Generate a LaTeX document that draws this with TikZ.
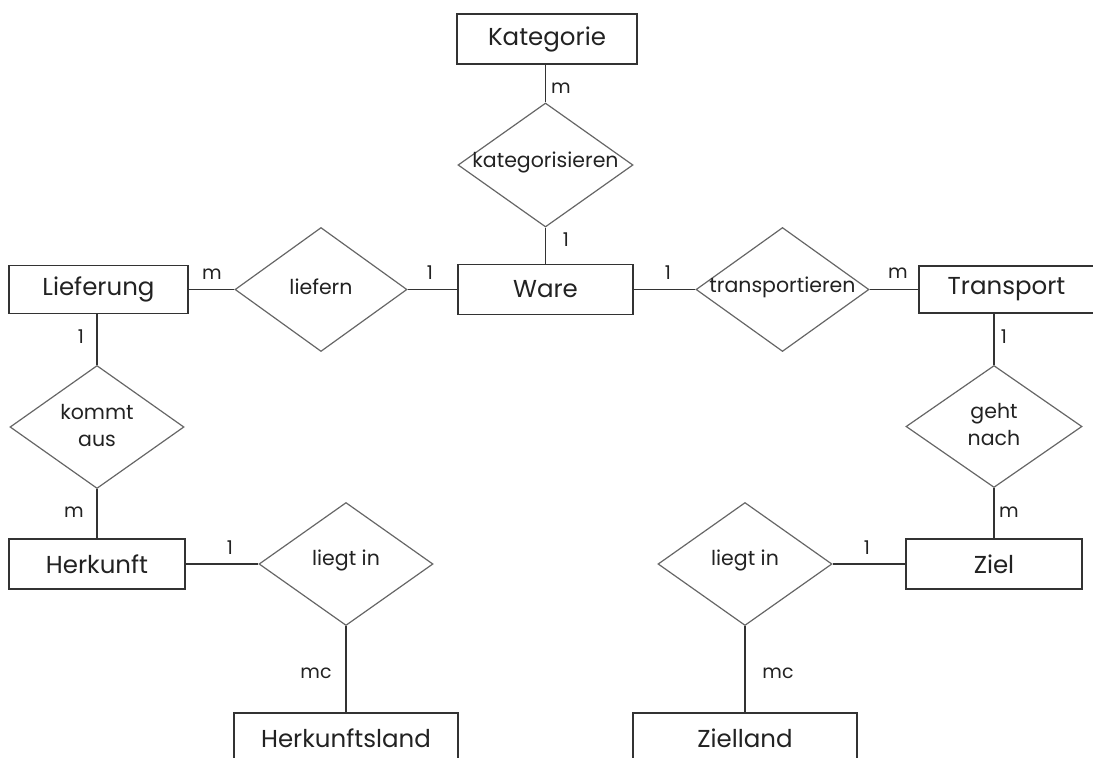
\documentclass[tikz,border=0pt]{standalone}
\usepackage{fontspec}
\setmainfont{Poppins}
\usetikzlibrary{shapes.geometric}
\definecolor{boxline}{HTML}{333333}
\definecolor{relline}{HTML}{666666}
\definecolor{txt}{HTML}{222222}
\tikzset{
  entity/.style={draw=boxline, line width=1.4pt, rectangle, inner sep=0pt,
    minimum width=175pt, minimum height=50pt, text=txt, font=\fontsize{24.5}{28}\selectfont},
  rel/.style={draw=relline, line width=1.2pt, diamond, inner sep=0pt,
    minimum width=174pt, minimum height=124pt},
  reltext/.style={text=txt, font=\fontsize{20.5}{27}\selectfont, align=center, inner sep=0pt},
  card/.style={text=txt, font=\fontsize{19}{22}\selectfont, inner sep=0pt},
  conn/.style={draw=boxline, line width=1.4pt}
}
\begin{document}
\begin{tikzpicture}[x=1pt,y=-1pt]
\useasboundingbox (0,0) rectangle (1093,758);
\clip (0,0) rectangle (1093,758);
% entities
\node[entity, minimum width=180pt] (kat) at (547,39) {Kategorie};
\node[entity] (ware) at (545.5,289.5) {Ware};
\node[entity, minimum width=179pt, minimum height=48pt] (lief) at (98.5,289.5) {Lieferung};
\node[entity, minimum height=47pt] (trans) at (1006.5,289.5) {Transport};
\node[entity, minimum width=176pt] (herk) at (97,564) {Herkunft};
\node[entity, minimum width=176pt] (ziel) at (994,564) {Ziel};
\node[entity, minimum width=224pt] (hland) at (346,738) {Herkunftsland};
\node[entity, minimum width=224pt] (zland) at (745,738) {Zielland};
% relationships
\node[rel, minimum width=175pt] (rkat) at (545.5,165) {};
\node[reltext] (tkat) at (545.5,162) {kategorisieren};
\node[rel, minimum width=172pt] (rlief) at (321,289.5) {};
\node[reltext] (tlief) at (321,287) {liefern};
\node[rel, minimum width=173pt] (rtrans) at (782.5,289.5) {};
\node[reltext] (ttrans) at (782.5,287) {transportieren};
\node[rel, minimum height=123pt] (rkommt) at (97,427) {};
\node[reltext] (tkommt) at (97,426) {kommt\\aus};
\node[rel, minimum width=176pt, minimum height=122pt] (rgeht) at (994,426.5) {};
\node[reltext] (tgeht) at (994,425) {geht\\nach};
\node[rel, minimum height=123pt] (rlieL) at (346,564) {};
\node[reltext] (tlieL) at (346,560) {liegt in};
\node[rel, minimum height=123pt] (rlieR) at (745,564) {};
\node[reltext] (tlieR) at (745,560) {liegt in};
% connectors
\draw[conn] (rkat.north |- kat.south) -- (rkat.north);
\draw[conn] (rkat.south) -- (ware.north);
\draw[conn] (lief.east) -- (rlief.west);
\draw[conn] (rlief.east) -- (ware.west);
\draw[conn] (ware.east) -- (rtrans.west);
\draw[conn] (rtrans.east) -- (trans.west);
\draw[conn] (rkommt.north |- lief.south) -- (rkommt.north);
\draw[conn] (rkommt.south) -- (herk.north);
\draw[conn] (rgeht.north) -- (rgeht.north |- trans.south);
\draw[conn] (rgeht.south) -- (ziel.north);
\draw[conn] (herk.east) -- (rlieL.west);
\draw[conn] (rlieL.south) -- (hland.north);
\draw[conn] (ziel.west) -- (rlieR.east);
\draw[conn] (rlieR.south) -- (zland.north);
% cardinalities
\node[card] (c1) at (561,88) {m};
\node[card] (c2) at (566,240) {1};
\node[card] (c3) at (212,274) {m};
\node[card] (c4) at (430,273) {1};
\node[card] (c5) at (668,273) {1};
\node[card] (c6) at (898,273) {m};
\node[card] (c7) at (81,337) {1};
\node[card] (c8) at (74,512) {m};
\node[card] (c9) at (1004,337) {1};
\node[card] (c10) at (1009,512) {m};
\node[card] (c11) at (230,548) {1};
\node[card] (c12) at (867,548) {1};
\node[card] (c13) at (316,673) {mc};
\node[card] (c14) at (778,673) {mc};
\end{tikzpicture}
\end{document}
